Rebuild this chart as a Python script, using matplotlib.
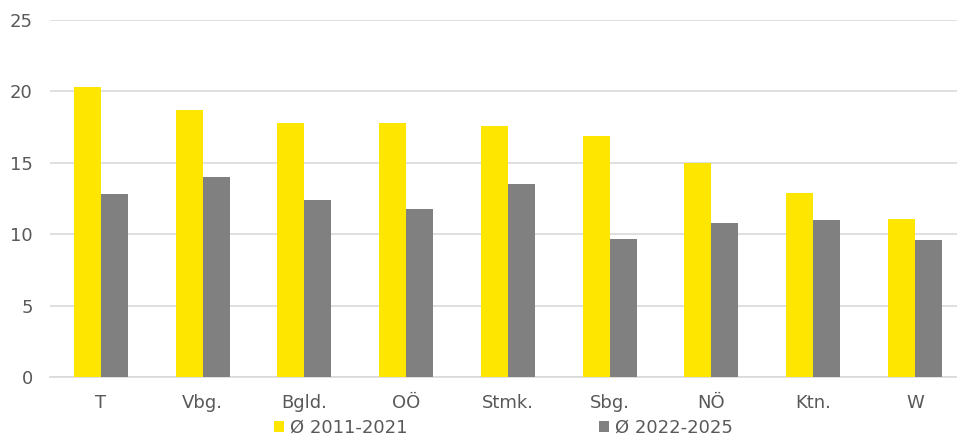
import numpy as np
import matplotlib
matplotlib.use("Agg")
import matplotlib.pyplot as plt

regions = ["T", "Vbg.", "Bgld.", "OÖ", "Stmk.", "Sbg.", "NÖ", "Ktn.", "W"]
avg_2011_2021 = [20.3, 18.7, 17.8, 17.8, 17.6, 16.9, 15.0, 12.9, 11.1]
avg_2022_2025 = [12.8, 14.0, 12.4, 11.8, 13.5, 9.7, 10.8, 11.0, 9.6]
series_labels = ["Ø 2011-2021", "Ø 2022-2025"]

plt.rcParams['font.family'] = ['DejaVu Sans']
txt = "#595959"
fs = 13

W, H = 957, 436
fig = plt.figure(figsize=(W / 100, H / 100), dpi=100)
ax = fig.add_axes([50 / W, 1 - 377.3 / H, 1 - 50 / W, 357.3 / H])

x = np.arange(len(regions))
bw = 0.265
ax.bar(x - bw / 2, avg_2011_2021, bw, color="#FFE600", label=series_labels[0], zorder=3)
ax.bar(x + bw / 2, avg_2022_2025, bw, color="#808080", label=series_labels[1], zorder=3)

ax.set_ylim(0, 25)
ax.set_yticks(range(0, 26, 5))
ax.set_xlim(-0.5, -0.5 + 907 / 101.75)
ax.set_xticks(x)
ax.set_xticklabels(regions)
ax.yaxis.grid(True, color="#D9D9D9", linewidth=1.2, zorder=0)
for s in ["top", "right", "left"]:
    ax.spines[s].set_visible(False)
ax.spines["bottom"].set_color("#D9D9D9")
ax.spines["bottom"].set_linewidth(1.2)
ax.tick_params(axis="both", length=0, labelsize=fs, colors=txt)
ax.tick_params(axis="y", pad=12.5)
ax.tick_params(axis="x", pad=12)

fig.legend(loc="center", bbox_to_anchor=(503.5 / W, 1 - 428 / H), ncol=2, frameon=False,
           fontsize=fs, labelcolor=txt, handlelength=0.55, handleheight=0.55,
           handletextpad=0.35, columnspacing=10.6, borderpad=0)

fig.savefig("out.png", dpi=100)
